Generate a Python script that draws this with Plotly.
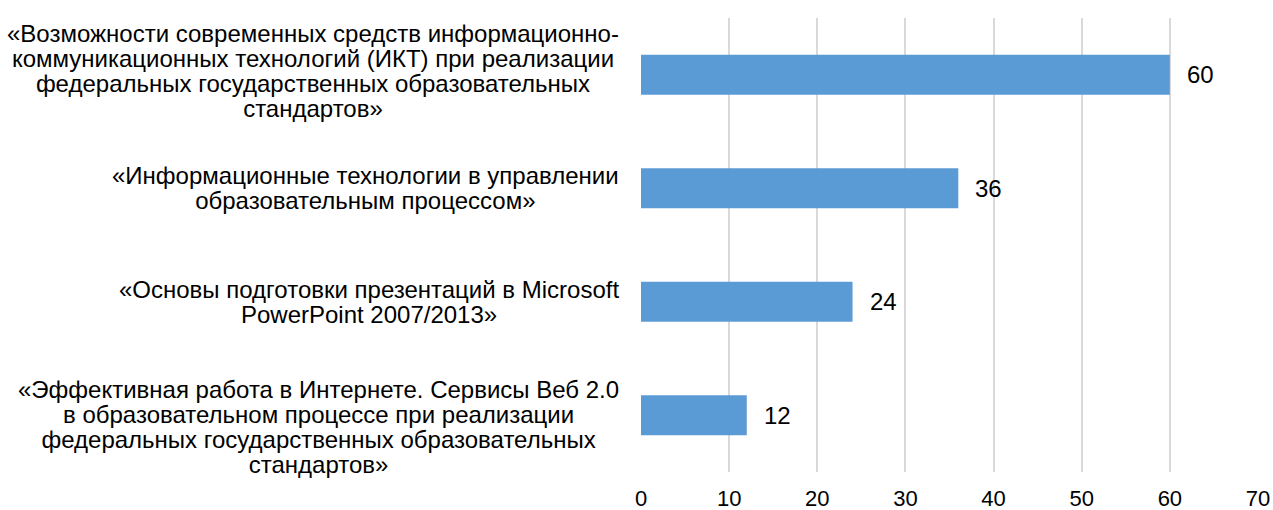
import plotly.graph_objects as go

# Course titles (top to bottom), split into display lines
categories = [
    ["«Возможности современных средств информационно-",
     "коммуникационных технологий (ИКТ) при реализации",
     "федеральных государственных образовательных",
     "стандартов»"],
    ["«Информационные технологии в управлении",
     "образовательным процессом»"],
    ["«Основы подготовки презентаций в Microsoft",
     "PowerPoint 2007/2013»"],
    ["«Эффективная работа в Интернете. Сервисы Веб 2.0",
     "в образовательном процессе при реализации",
     "федеральных государственных образовательных",
     "стандартов»"],
]
# Number of participants per course
values = [60, 36, 24, 12]
x_ticks = [0, 10, 20, 30, 40, 50, 60, 70]

FONT = "Liberation Sans, Arial, sans-serif"
BAR_COLOR = "#5b9bd5"
TEXT_COLOR = "#000000"

ids = list(range(len(categories)))

fig = go.Figure(
    go.Bar(
        x=values,
        y=ids,
        orientation="h",
        marker=dict(color=BAR_COLOR, line=dict(width=0)),
        hoverinfo="skip",
    )
)

# Value labels to the right of each bar
for i, v in zip(ids, values):
    fig.add_annotation(
        x=v, y=i, xref="x", yref="y",
        text=str(v), showarrow=False,
        xanchor="left", yanchor="middle", xshift=15,
        font=dict(family=FONT, size=24, color=TEXT_COLOR),
    )

# Centered multi-line category labels left of the plot.
# A smaller base font keeps the line spacing tight while the
# span renders the glyphs at full size.
label_yshift = [4, 0, 0, -12]
for i, lines in zip(ids, categories):
    text = "<br>".join(
        f'<span style="font-size:24px">{ln}</span>' for ln in lines
    )
    fig.add_annotation(
        x=0, y=i, xref="paper", yref="y",
        text=text, showarrow=False,
        xanchor="right", yanchor="middle", xshift=-20,
        yshift=label_yshift[i],
        align="center",
        font=dict(family=FONT, size=19.3, color=TEXT_COLOR),
    )

fig.update_layout(
    width=1273,
    height=510,
    margin=dict(l=641, r=15, t=18, b=38),
    paper_bgcolor="white",
    plot_bgcolor="white",
    bargap=0.648,
    showlegend=False,
    font=dict(family=FONT, size=23, color=TEXT_COLOR),
)

fig.update_xaxes(
    range=[0, 70],
    tickvals=x_ticks,
    ticktext=[str(t) for t in x_ticks],
    showgrid=True,
    gridcolor="#d9d9d9",
    gridwidth=1.5,
    zeroline=False,
    showline=False,
    ticks="",
    automargin=False,
    ticklabelstandoff=11,
    tickfont=dict(family=FONT, size=22, color=TEXT_COLOR),
)

fig.update_yaxes(
    range=[len(categories) - 0.5, -0.5],
    showticklabels=False,
    showgrid=False,
    zeroline=False,
    showline=False,
    ticks="",
    automargin=False,
)

fig.write_html("out.html")
